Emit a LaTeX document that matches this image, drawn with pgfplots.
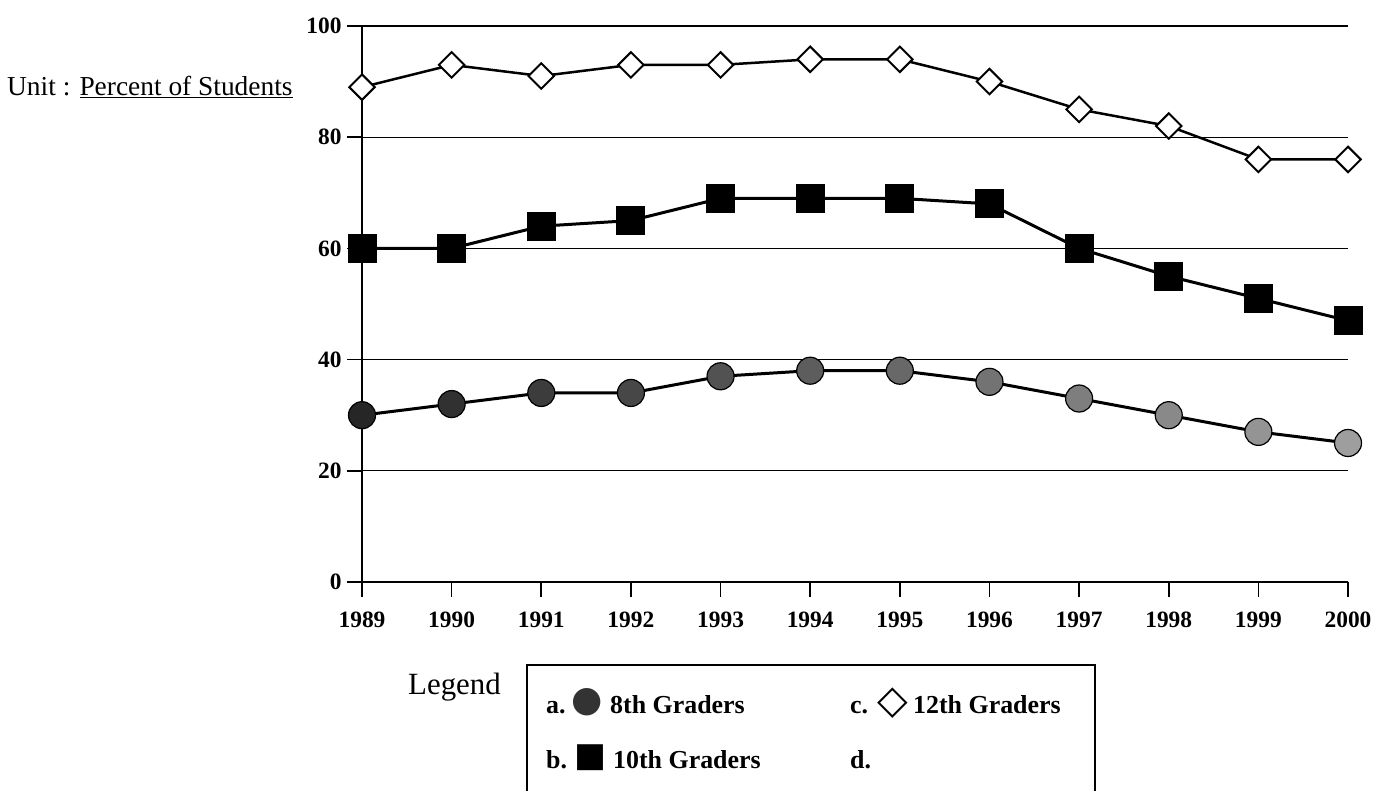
\documentclass[border=0pt]{standalone}
\usepackage{pgfplots}
\pgfplotsset{compat=1.18}
\usepackage{fontspec}
\setmainfont{Liberation Serif}
\newfontfamily\symfont{DejaVu Sans}
\begin{document}
\begin{tikzpicture}[x=1bp,y=1bp]
\useasboundingbox (0,0) rectangle (1387,791);
\begin{axis}[
  at={(362bp,209bp)}, anchor=south west,
  scale only axis, width=986bp, height=556bp,
  xmin=1989, xmax=2000, ymin=0, ymax=100,
  clip=false,
  axis lines=left,
  axis line style={-, line width=2bp, black},
  xtick={1989,1990,...,2000},
  ytick={0,20,40,60,80,100},
  tick align=outside,
  major tick length=15bp,
  tick style={black, line width=1.6bp},
  ymajorgrids,
  grid style={black, line width=1.3bp},
  /pgf/number format/1000 sep={},
  /pgf/number format/assume math mode=true,
  ticklabel style={font=\fontsize{23.5}{23.5}\selectfont\bfseries},
  xticklabel style={yshift=-11bp},
  yticklabel style={xshift=-2bp},
  colormap={graygrad}{color(0cm)=(black!85); color(1cm)=(black!38)},
]
% 12th Graders
\addplot[black, line width=2.5bp, mark=square*, mark size=9bp,
  mark options={fill=white, rotate=45, line width=2bp}]
  coordinates {(1989,89) (1990,93) (1991,91) (1992,93) (1993,93) (1994,94)
               (1995,94) (1996,90) (1997,85) (1998,82) (1999,76) (2000,76)};
% 10th Graders
\addplot[black, line width=3bp, mark=square*, mark size=14bp,
  mark options={fill=black, line width=1bp}]
  coordinates {(1989,60) (1990,60) (1991,64) (1992,65) (1993,69) (1994,69)
               (1995,69) (1996,68) (1997,60) (1998,55) (1999,51) (2000,47)};
% 8th Graders
\addplot[black, line width=3bp, scatter, mark=*, mark size=13.5bp,
  point meta=x, point meta min=1989, point meta max=2000,
  scatter/use mapped color={draw=black, fill=mapped color},
  mark options={line width=1.2bp}]
  coordinates {(1989,30) (1990,32) (1991,34) (1992,34) (1993,37) (1994,38)
               (1995,38) (1996,36) (1997,33) (1998,30) (1999,27) (2000,25)};
\end{axis}
% Unit label
\node[anchor=base west, inner sep=0, font=\fontsize{27.5}{27.5}\selectfont]
  at (7,695) {Unit : \underline{Percent of Students}};
% Legend
\node[anchor=base west, inner sep=0, font=\fontsize{31}{31}\selectfont]
  at (408,97) {Legend};
\draw[line width=2.5bp, black] (527,0) -- (527,126) -- (1095,126) -- (1095,0);
\begin{scope}[every node/.style={anchor=base west, inner sep=0, font=\fontsize{26}{26}\selectfont\bfseries}]
\node at (546,78) {a.};
\node at (610,78) {8th Graders};
\node at (546,23) {b.};
\node at (613,23) {10th Graders};
\node at (850,78) {c.};
\node at (913,78) {12th Graders};
\node at (850,23) {d.};
\end{scope}
\node[anchor=center, inner sep=0, text=black!80, font=\fontsize{36}{36}\selectfont\symfont] at (587,89) {●};
\node[anchor=center, inner sep=0, text=black, font=\fontsize{34}{34}\selectfont\symfont] at (590,33) {■};
\node[anchor=center, inner sep=0, text=black, font=\fontsize{40}{40}\selectfont\symfont] at (893,88) {◇};
\end{tikzpicture}
\end{document}
